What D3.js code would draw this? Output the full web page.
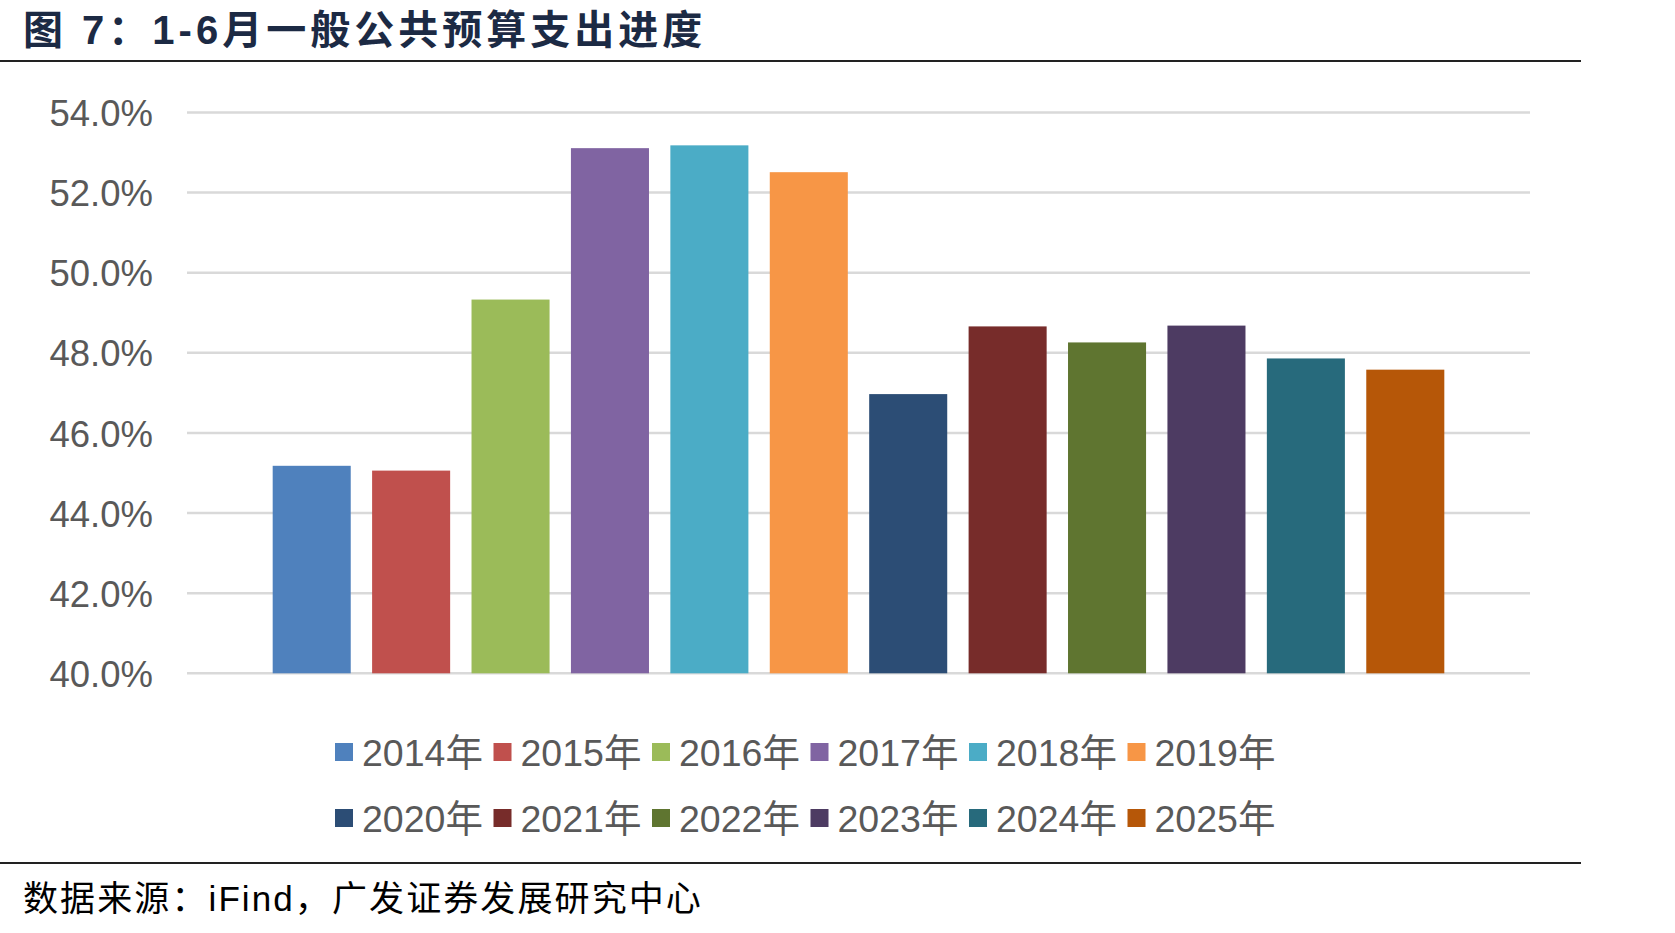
<!DOCTYPE html>
<html><head><meta charset="utf-8">
<script src="https://cdn.jsdelivr.net/npm/d3@7"></script>
<style>
html,body{margin:0;padding:0;background:#fff;}
svg{display:block;}
</style></head>
<body>
<script>
const categories = ["2014年","2015年","2016年","2017年","2018年","2019年","2020年","2021年","2022年","2023年","2024年","2025年"];
const values = [45.18, 45.06, 49.33, 53.11, 53.18, 52.51, 46.97, 48.66, 48.26, 48.68, 47.86, 47.58];
const colors = ["#4F81BD","#C0504D","#9BBB59","#8064A2","#4BACC6","#F79646","#2C4D75","#772C2A","#5F7530","#4D3B62","#276A7C","#B65708"];
const yTicks = [40, 42, 44, 46, 48, 50, 52, 54];
const title = "图 7：1-6月一般公共预算支出进度";
const source = "数据来源：iFind，广发证券发展研究中心";

const W = 1675, H = 933;
const svg = d3.select("body").append("svg").attr("width", W).attr("height", H);
const font = "'Liberation Sans', Arial, 'Noto Sans CJK SC', sans-serif";

// title
svg.append("text").attr("x", 23).attr("y", 44)
  .attr("font-family", font).attr("font-weight", "bold")
  .attr("font-size", 40).attr("letter-spacing", 4.0).attr("fill", "#1c2a44")
  .text(title);
svg.append("line").attr("x1", 0).attr("x2", 1581).attr("y1", 61).attr("y2", 61)
  .attr("stroke", "#222").attr("stroke-width", 2);

// scales
const y = d3.scaleLinear().domain([40, 54]).range([673.3, 112.5]);
const x = d3.scaleBand().domain(categories).range([262, 1455]).paddingInner(0.215).paddingOuter(0.1075);

// gridlines
const grid = svg.append("g");
grid.selectAll("line").data(yTicks).join("line")
  .attr("x1", 187).attr("x2", 1530)
  .attr("y1", d => y(d)).attr("y2", d => y(d))
  .attr("stroke", "#d9d9d9").attr("stroke-width", 2.5);

// y axis labels via d3 axis
const yAxis = d3.axisLeft(y).tickValues(yTicks).tickSize(0).tickPadding(0)
  .tickFormat(d => d3.format(".1f")(d) + "%");
const ga = svg.append("g").attr("transform", "translate(153,0)").call(yAxis);
ga.select(".domain").remove();
ga.selectAll("text").attr("font-family", font).attr("font-size", 36.5).attr("fill", "#595959").attr("dy", "0.36em");

// bars
svg.append("g").selectAll("rect").data(values).join("rect")
  .attr("x", (d, i) => x(categories[i]))
  .attr("width", x.bandwidth())
  .attr("y", d => y(d))
  .attr("height", d => y(40) - y(d))
  .attr("fill", (d, i) => colors[i]);

// legend
const legend = svg.append("g");
categories.forEach((c, i) => {
  const row = Math.floor(i / 6), col = i % 6;
  const lx = 335 + col * 158.5, ly = 752 + row * 66;
  legend.append("rect").attr("x", lx).attr("y", ly - 9).attr("width", 18).attr("height", 18).attr("fill", colors[i]);
  legend.append("text").attr("x", lx + 27).attr("y", ly).attr("dy", "0.36em")
    .attr("font-family", font).attr("font-size", 37.5).attr("fill", "#595959").text(c);
});

// bottom rule & source
svg.append("line").attr("x1", 0).attr("x2", 1581).attr("y1", 863).attr("y2", 863)
  .attr("stroke", "#222").attr("stroke-width", 2);
svg.append("text").attr("x", 23).attr("y", 911)
  .attr("font-family", font).attr("font-size", 35).attr("letter-spacing", 2.1).attr("fill", "#000")
  .text(source);
</script>
</body></html>
